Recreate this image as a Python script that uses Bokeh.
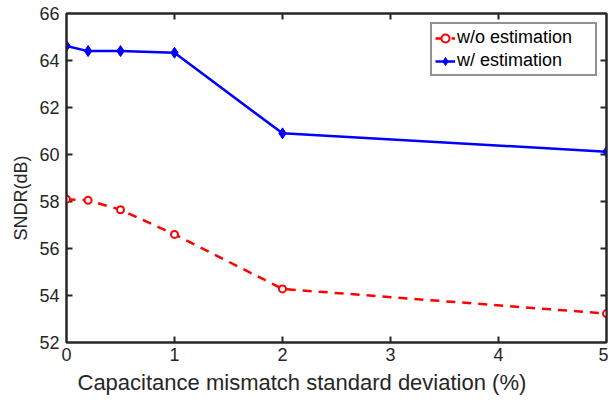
from bokeh.plotting import figure
from bokeh.models import LinearAxis, Legend, LegendItem, FixedTicker, CustomJSTickFormatter, Title
from bokeh.embed import file_html
from bokeh.resources import INLINE

x_vals = [0, 0.2, 0.5, 1, 2, 5]
sndr_wo = [58.1, 58.05, 57.65, 56.6, 54.28, 53.23]
sndr_w = [64.62, 64.4, 64.4, 64.33, 60.9, 60.12]
x_ticks = [0, 1, 2, 3, 4, 5]
y_ticks = [52, 54, 56, 58, 60, 62, 64, 66]
x_lim = (0, 5)
y_lim = (52, 66)
x_title = "Capacitance mismatch standard deviation (%)"
y_title = "SNDR(dB)"

FONT = "Liberation Sans"
TXT = "#262626"
AX = "#262626"

W, H = 608, 400
BL, BR, BT, BB = 66, 2, 13, 58

p = figure(width=W, height=H, x_range=x_lim, y_range=y_lim,
           output_backend="svg", toolbar_location=None,
           min_border_left=BL, min_border_right=BR, min_border_top=BT, min_border_bottom=BB)
p.grid.visible = False
p.outline_line_color = AX
p.outline_line_width = 2
p.background_fill_color = "white"

for ax in [p.xaxis[0], p.yaxis[0]]:
    ax.axis_line_color = AX
    ax.axis_line_width = 2
    ax.major_tick_in = 0
    ax.major_tick_out = 0
    ax.minor_tick_line_color = None
    ax.major_tick_line_color = None
    ax.major_label_text_font = FONT
    ax.major_label_text_color = TXT

p.xaxis[0].ticker = FixedTicker(ticks=x_ticks)
p.yaxis[0].ticker = FixedTicker(ticks=y_ticks)
p.xaxis[0].major_label_text_font_size = "18px"
p.yaxis[0].major_label_text_font_size = "18px"
p.xaxis[0].major_label_standoff = 5
p.yaxis[0].major_label_standoff = 7

blank = CustomJSTickFormatter(code="return ''")
for loc, tk in (("above", x_ticks), ("right", y_ticks)):
    a = LinearAxis(ticker=FixedTicker(ticks=tk), formatter=blank,
                   major_tick_in=0, major_tick_out=0, major_label_standoff=0,
                   major_tick_line_color=None, minor_tick_line_color=None,
                   axis_line_color=AX, axis_line_width=2,
                   major_label_text_font_size="0px")
    p.add_layout(a, loc)

# axis titles, placed off the frame centre as in the reference
p.add_layout(Title(text=x_title, align="left", offset=11, standoff=9,
                   text_font=FONT, text_font_size="22px", text_font_style="normal",
                   text_color=TXT), "below")
p.add_layout(Title(text=y_title, align="left", offset=102, standoff=12,
                   text_font=FONT, text_font_size="18px", text_font_style="normal",
                   text_color=TXT), "left")

# inward tick marks (MATLAB style), built from the tick lists and axis limits
fw = W - BL - BR
fh = H - BT - BB
tick_px = 6
tx = tick_px * (x_lim[1] - x_lim[0]) / fw
ty = tick_px * (y_lim[1] - y_lim[0]) / fh
inner_x = [t for t in x_ticks if x_lim[0] < t < x_lim[1]]
inner_y = [t for t in y_ticks if y_lim[0] < t < y_lim[1]]
p.segment(x0=inner_x, y0=[y_lim[0]] * len(inner_x), x1=inner_x, y1=[y_lim[0] + ty] * len(inner_x),
          line_color=AX, line_width=2)
p.segment(x0=inner_x, y0=[y_lim[1]] * len(inner_x), x1=inner_x, y1=[y_lim[1] - ty] * len(inner_x),
          line_color=AX, line_width=2)
p.segment(x0=[x_lim[0]] * len(inner_y), y0=inner_y, x1=[x_lim[0] + tx] * len(inner_y), y1=inner_y,
          line_color=AX, line_width=2)
p.segment(x0=[x_lim[1]] * len(inner_y), y0=inner_y, x1=[x_lim[1] - tx] * len(inner_y), y1=inner_y,
          line_color=AX, line_width=2)

l1 = p.line(x_vals, sndr_wo, line_color="red", line_width=2.5, line_dash="9 7")
c1 = p.scatter(x_vals, sndr_wo, marker="circle", size=7, line_color="red",
               fill_color="white", line_width=2)
l2 = p.line(x_vals, sndr_w, line_color="blue", line_width=2.5)
c2 = p.scatter(x_vals, sndr_w, marker="diamond", size=11, line_color="blue",
               fill_color="blue", line_width=1)

legend = Legend(items=[LegendItem(label="w/o estimation", renderers=[l1, c1]),
                       LegendItem(label="w/ estimation", renderers=[l2, c2])],
                location="top_right")
legend.label_text_font = FONT
legend.label_text_font_size = "18px"
legend.label_text_color = "black"
legend.border_line_color = AX
legend.border_line_width = 2
legend.glyph_width = 20
legend.glyph_height = 20
legend.label_height = 20
legend.label_width = 135
legend.label_standoff = 2
legend.spacing = 2
legend.padding = 3
legend.margin = 9
legend.background_fill_alpha = 1
p.add_layout(legend)

open("out.html", "w").write(file_html(p, INLINE))
